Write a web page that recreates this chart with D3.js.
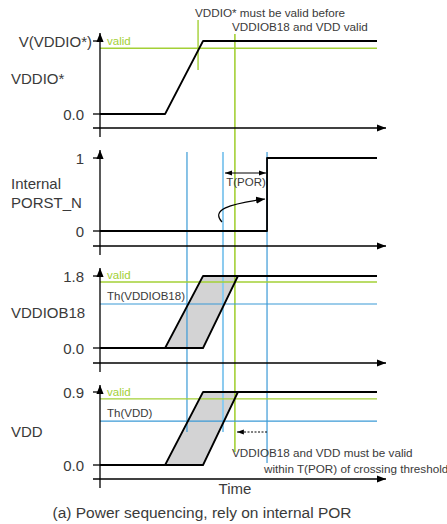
<!DOCTYPE html>
<html><head><meta charset="utf-8">
<script src="https://cdn.jsdelivr.net/npm/d3@7"></script>
<style>html,body{margin:0;padding:0;background:#fff;}svg{display:block;}</style>
</head><body><svg id="c" width="447" height="524"></svg>
<script>
// ---- data ----
const timeDomain = [0, 10];
const panelNames = ["VDDIO*", "Internal\nPORST_N", "VDDIOB18", "VDD"];
const panelMax = [1, 1, 1.8, 0.9];
const topTickLabels = ["V(VDDIO*)", "1", "1.8", "0.9"];
const bottomTickLabels = ["0.0", "0", "0.0", "0.0"];
const vddioWave = [[0,0],[2.35,0],[3.72,1],[10,1]];
const porstWave = [[0,0],[6.03,0],[6.03,1],[10,1]];
const vddiob18Early = [[0,0],[2.35,0],[3.72,1.8],[10,1.8]];
const vddiob18Late = [[2.35,0],[3.72,0],[4.98,1.8]];
const vddEarly = [[0,0],[2.35,0],[3.72,0.9],[10,0.9]];
const vddLate = [[2.35,0],[3.72,0],[4.98,0.9]];
const validLevels = [0.9, null, 1.65, 0.815];
const thresholdLevels = [null, null, 1.1, 0.54];
const thresholdLabels = [null, null, "Th(VDDIOB18)", "Th(VDD)"];
const blueTimes = [3.14, 4.44, 6.03];
const greenTime = 4.87;
const greenTickTime = 3.54;
const porTimes = [4.44, 6.03];

// ---- layout ----
const svg = d3.select("#c");
const x = d3.scaleLinear().domain(timeDomain).range([100, 377]);
const panelTop = [41, 158, 276, 392];
const panelBot = [114, 231, 348, 465];
const yScales = panelMax.map((m, i) => d3.scaleLinear().domain([0, m]).range([panelBot[i], panelTop[i]]));
const GREEN = "#a3d036", BLUE = "#3b9ad6", LBLUE = "#8ccbef", TXT = "#3a3a3a";
const FONT = "'Liberation Sans', Arial, sans-serif";

const defs = svg.append("defs");
function marker(id, path, w) {
  defs.append("marker").attr("id", id).attr("viewBox", "0 0 10 10").attr("refX", 10).attr("refY", 5)
    .attr("markerWidth", w).attr("markerHeight", w).attr("markerUnits", "userSpaceOnUse")
    .attr("orient", "auto-start-reverse").append("path").attr("d", path).attr("fill", "#000");
}
marker("ah", "M0,1 L10,5 L0,9 Z", 9);
marker("ahs", "M0,1.5 L10,5 L0,8.5 Z", 7);

const line = (ys) => d3.line().x(d => x(d[0])).y(d => ys(d[1]));

const gFill = svg.append("g");
const gGuides = svg.append("g");
const gAxes = svg.append("g");
const gWave = svg.append("g");

// band fills (behind guide lines)
function bandFill(early, late, ys) {
  const poly = [early[1], early[2], late[2], late[1]];
  gFill.append("path").attr("d", "M" + poly.map(d => [x(d[0]), ys(d[1])].join(",")).join("L") + "Z")
    .attr("fill", "#d3d3d4").attr("stroke", "none");
}
bandFill(vddiob18Early, vddiob18Late, yScales[2]);
bandFill(vddEarly, vddLate, yScales[3]);

// vertical blue / green guide lines
const blueEnds = [[152, 432], [152, 432], [152, 463]];
blueTimes.forEach((t, i) => {
  gGuides.append("line").attr("x1", x(t)).attr("x2", x(t)).attr("y1", blueEnds[i][0]).attr("y2", blueEnds[i][1])
    .attr("stroke", i === 1 ? LBLUE : BLUE).attr("stroke-width", i === 1 ? 2 : 1.2);
});
gGuides.append("line").attr("x1", x(greenTime)).attr("x2", x(greenTime)).attr("y1", 34).attr("y2", 452)
  .attr("stroke", GREEN).attr("stroke-width", 1.6);
gGuides.append("line").attr("x1", x(greenTickTime)).attr("x2", x(greenTickTime)).attr("y1", 20).attr("y2", 70)
  .attr("stroke", GREEN).attr("stroke-width", 1.4);

// panels
const axisTop = [33, 150, 268, 385];
const axisX = [128, 246, 363, 479];
panelMax.forEach((m, i) => {
  const ys = yScales[i];
  if (validLevels[i] != null) {
    gGuides.append("line").attr("x1", 100).attr("x2", 377).attr("y1", ys(validLevels[i])).attr("y2", ys(validLevels[i]))
      .attr("stroke", GREEN).attr("stroke-width", 1.4);
    gGuides.append("text").attr("x", 107).attr("y", ys(validLevels[i]) - 3).text("valid")
      .attr("font-family", FONT).attr("font-size", 11.5).attr("fill", GREEN);
  }
  if (thresholdLevels[i] != null) {
    gGuides.append("line").attr("x1", 100).attr("x2", 377).attr("y1", ys(thresholdLevels[i])).attr("y2", ys(thresholdLevels[i]))
      .attr("stroke", BLUE).attr("stroke-width", 1.2);
    gGuides.append("text").attr("x", 107).attr("y", ys(thresholdLevels[i]) - 4).text(thresholdLabels[i])
      .attr("font-family", FONT).attr("font-size", 11.5).attr("fill", TXT);
  }
  gAxes.append("line").attr("x1", 100).attr("x2", 100).attr("y1", axisX[i] + 9).attr("y2", axisTop[i])
    .attr("stroke", "#000").attr("stroke-width", 1.3).attr("marker-end", "url(#ah)");
  gAxes.append("line").attr("x1", 93).attr("x2", 386).attr("y1", axisX[i]).attr("y2", axisX[i])
    .attr("stroke", "#000").attr("stroke-width", 1.3).attr("marker-end", "url(#ah)");
  [0, m].forEach(v => gAxes.append("line").attr("x1", 93).attr("x2", 100).attr("y1", ys(v)).attr("y2", ys(v))
    .attr("stroke", "#000").attr("stroke-width", 1.3));
  gAxes.append("text").attr("x", i === 0 ? 92 : 84).attr("y", ys(m) + 5.5).attr("text-anchor", "end")
    .text(topTickLabels[i]).attr("font-family", FONT).attr("font-size", 15).attr("fill", TXT);
  gAxes.append("text").attr("x", 84).attr("y", ys(0) + 5.5).attr("text-anchor", "end")
    .text(bottomTickLabels[i]).attr("font-family", FONT).attr("font-size", 15).attr("fill", TXT);
});

// panel names
const nameY = [[78], [183, 202], [312], [431]];
panelNames.forEach((n, i) => {
  n.split("\n").forEach((s, j) => svg.append("text").attr("x", 11).attr("y", nameY[i][j] + 5.5).text(s)
    .attr("font-family", FONT).attr("font-size", 15).attr("fill", TXT));
});

// waveforms
const wave = (data, ys) => gWave.append("path").attr("d", line(ys)(data)).attr("fill", "none")
  .attr("stroke", "#000").attr("stroke-width", 1.8).attr("stroke-linejoin", "round");
wave(vddioWave, yScales[0]);
wave(porstWave, yScales[1]);
wave(vddiob18Late, yScales[2]);
wave(vddiob18Early, yScales[2]);
wave(vddLate, yScales[3]);
wave(vddEarly, yScales[3]);

// T(POR) arrow
svg.append("line").attr("x1", x(porTimes[0]) + 2).attr("x2", x(porTimes[1]) - 1).attr("y1", 173).attr("y2", 173)
  .attr("stroke", "#000").attr("stroke-width", 1).attr("marker-start", "url(#ahs)").attr("marker-end", "url(#ahs)");
svg.append("text").attr("x", (x(porTimes[0]) + x(porTimes[1])) / 2 + 1).attr("y", 186).attr("text-anchor", "middle")
  .text("T(POR)").attr("font-family", FONT).attr("font-size", 11.5).attr("fill", TXT);
// curved arrow
svg.append("path").attr("d", `M${x(porTimes[0]) - 1},222 C${x(porTimes[0]) - 12},210 ${x(porTimes[0]) + 5},204 ${x(porTimes[1]) - 2},199`)
  .attr("fill", "none").attr("stroke", "#000").attr("stroke-width", 1.2).attr("marker-end", "url(#ah)");
// dotted arrow
svg.append("line").attr("x1", x(porTimes[1])).attr("x2", x(greenTime) + 2).attr("y1", 432).attr("y2", 432)
  .attr("stroke", "#000").attr("stroke-width", 1).attr("stroke-dasharray", "2,1.5").attr("marker-end", "url(#ahs)");

// annotations
const ann = [
  ["VDDIO* must be valid before", 195, 13],
  ["VDDIOB18 and VDD valid", 232, 27],
  ["VDDIOB18 and VDD must be valid", 232, 453],
  ["within T(POR) of crossing threshold", 264, 469]
];
ann.forEach(a => svg.append("text").attr("x", a[1]).attr("y", a[2] + 4.2).text(a[0])
  .attr("font-family", FONT).attr("font-size", 11.7).attr("fill", TXT));
svg.append("text").attr("x", 235).attr("y", 493.5).attr("text-anchor", "middle").text("Time")
  .attr("font-family", FONT).attr("font-size", 15).attr("fill", TXT);
svg.append("text").attr("x", 202).attr("y", 517.5).attr("text-anchor", "middle").text("(a) Power sequencing, rely on internal POR")
  .attr("font-family", FONT).attr("font-size", 15.5).attr("fill", TXT);
</script></body></html>
